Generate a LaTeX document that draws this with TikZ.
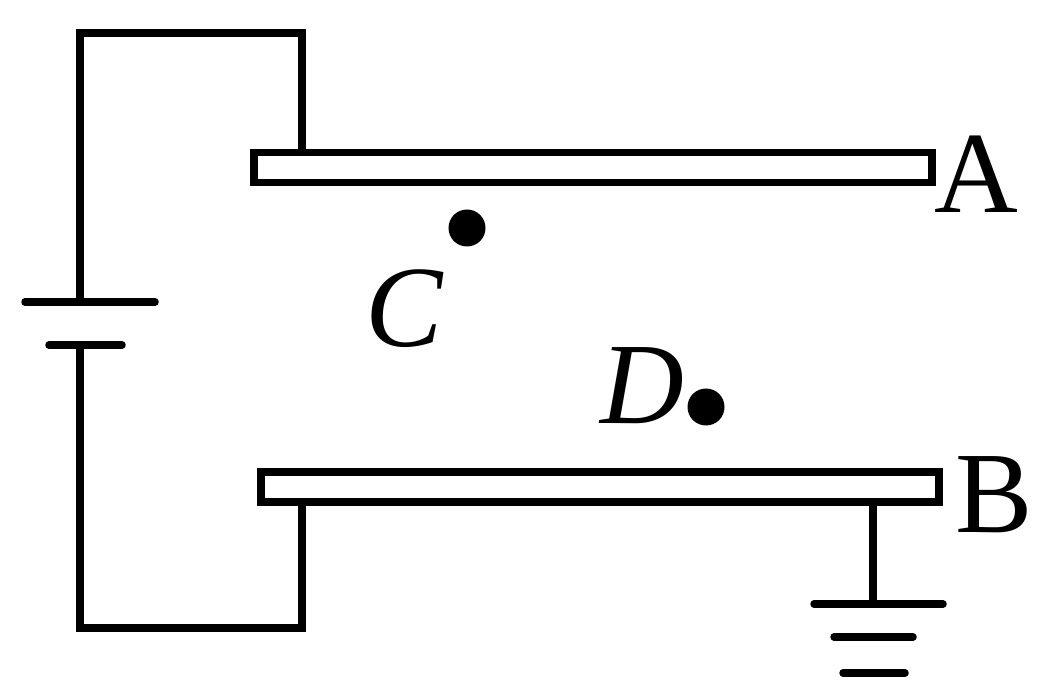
\documentclass[tikz,border=0pt]{standalone}
\usepackage{fontspec}
\setmainfont{Liberation Serif}
\begin{document}
\begin{tikzpicture}[x=1pt,y=-1pt,
  wire/.style={line width=7.5pt,line cap=round,line join=miter},
  plate/.style={draw,fill=white,line width=7.5pt,inner sep=0pt,anchor=north west},
  dotn/.style={circle,fill=black,inner sep=0pt,minimum size=37pt},
  lab/.style={inner sep=0pt,font=\fontsize{116}{116}\selectfont}]
\useasboundingbox (0,0) rectangle (1060,700);
\coordinate (batTop) at (80,302);
\coordinate (batBot) at (80,345);
\coordinate (ta) at (302,153);
\coordinate (tb) at (302,502);
\coordinate (gnd) at (873,604);
\coordinate (gt) at (873,502);
\draw[wire] (ta) -- (302,33) -- (80,33) -- (batTop);
\draw[wire] (tb) -- (302,628) -- (80,628) -- (batBot);
\draw[wire] (25,302) -- (155,302);
\draw[wire] (49,345) -- (122,345);
\draw[wire] (gt) -- (gnd);
\draw[wire] (814,604) -- (943,604);
\draw[wire] (834,637) -- (913,637);
\draw[wire] (843,673) -- (905,673);
\node[plate,minimum width=678pt,minimum height=30pt] (A) at (250,149) {};
\node[plate,minimum width=678pt,minimum height=30pt] (B) at (257,468) {};
\node[dotn] (C) at (467,228) {};
\node[dotn] (D) at (706,407) {};
\node[lab,anchor=base] (la) at (976,213) {A};
\node[lab,anchor=base] (lb) at (994,532) {B};
\node[lab,anchor=base] (lc) at (404,347) {\itshape C};
\node[lab,anchor=base] (ld) at (642,423) {\itshape D};
\end{tikzpicture}
\end{document}
